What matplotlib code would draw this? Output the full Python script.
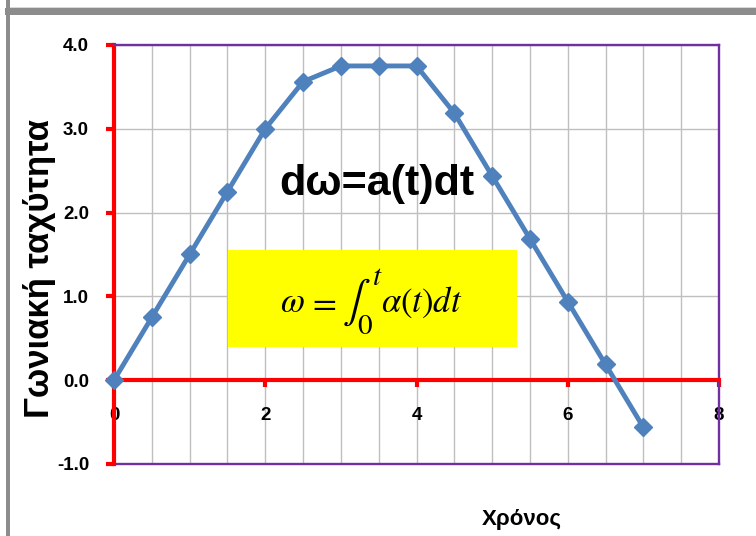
import matplotlib
matplotlib.use("Agg")
import matplotlib.pyplot as plt
from matplotlib.patches import Rectangle
from matplotlib.ticker import MultipleLocator, FormatStrFormatter

# Time samples and angular velocity values
time = [0, 0.5, 1, 1.5, 2, 2.5, 3, 3.5, 4, 4.5, 5, 5.5, 6, 6.5, 7]
omega = [0, 0.75, 1.5, 2.25, 3.0, 3.5625, 3.75, 3.75, 3.75, 3.1875,
         2.4375, 1.6875, 0.9375, 0.1875, -0.5625]

x_ticks = [0, 2, 4, 6, 8]
y_ticks = [-1.0, 0.0, 1.0, 2.0, 3.0, 4.0]

y_label = "Γωνιακή ταχύτητα"
x_label = "Χρόνος"
title_eq = "dω=a(t)dt"

RED = "#FF0000"
PURPLE = "#7030A0"
BLUE = "#4F81BD"
GRID = "#BFBFBF"
FRAME = "#8C8C8C"

plt.rcParams["font.family"] = ["Liberation Sans", "DejaVu Sans"]
plt.rcParams["mathtext.fontset"] = "stix"

W, H = 756, 536
fig = plt.figure(figsize=(W / 100, H / 100), dpi=100)


def px(x, y):
    """Pixel position (from top-left) to figure fraction."""
    return x / W, 1 - y / H


# outer frame: grey band across the top and grey bar down the left
fig.add_artist(Rectangle((5 / W, 1 - 15 / H), 1, 7 / H, transform=fig.transFigure,
                         facecolor=FRAME, edgecolor="none"))
fig.add_artist(Rectangle((6 / W, 0), 4 / W, 1, transform=fig.transFigure,
                         facecolor=FRAME, edgecolor="none"))
fig.add_artist(Rectangle((10 / W, 1 - 8 / H), 1, 1 / H, transform=fig.transFigure,
                         facecolor="#D9D9D9", edgecolor="none"))

ax = fig.add_axes([114 / W, 1 - 464 / H, (719 - 114) / W, (464 - 45) / H])
ax.set_xlim(0, 8)
ax.set_ylim(-1, 4)

ax.xaxis.set_minor_locator(MultipleLocator(0.5))
ax.yaxis.set_major_formatter(FormatStrFormatter("%.1f"))
ax.set_xticks(x_ticks)
ax.set_yticks(y_ticks)

ax.grid(True, which="both", axis="x", color=GRID, lw=1.0, zorder=0)
ax.grid(True, which="major", axis="y", color=GRID, lw=1.0, zorder=0)
ax.set_axisbelow(True)

# spines: red y-axis and red x-axis crossing at zero, purple frame elsewhere
ax.spines["left"].set_color(RED)
ax.spines["left"].set_linewidth(3)
ax.spines["bottom"].set_position(("data", 0))
ax.spines["bottom"].set_color(RED)
ax.spines["bottom"].set_linewidth(3)
for s in ("top", "right"):
    ax.spines[s].set_color(PURPLE)
    ax.spines[s].set_linewidth(1.7)
ax.axhline(-1, color=PURPLE, lw=1.7, zorder=1, clip_on=False)

ax.tick_params(axis="y", which="major", direction="out", length=6, width=3,
               color=RED, pad=12, labelsize=13.5)
ax.tick_params(axis="x", which="major", direction="out", length=5, width=3,
               color=RED, pad=14, labelsize=13.5)
ax.tick_params(axis="x", which="minor", length=0)
for lab in ax.get_xticklabels() + ax.get_yticklabels():
    lab.set_fontweight("bold")

ax.plot(time, omega, color=BLUE, lw=3.5, marker="D", ms=9.5,
        markerfacecolor=BLUE, markeredgecolor=BLUE, zorder=5, clip_on=False)

fig.text(*px(40, 269), y_label, ha="center", va="center", rotation=90,
         fontsize=25, fontweight="bold")
fig.text(*px(522, 520), x_label, ha="center", va="center",
         fontsize=16, fontweight="bold")

fig.text(*px(377, 184), title_eq, ha="center", va="center",
         fontsize=31, fontweight="bold")

# yellow box holding the integral form
ax.add_patch(Rectangle(((228 - 114) / 605, (464 - 347) / 419), (517 - 228) / 605,
                       (347 - 250) / 419, transform=ax.transAxes,
                       facecolor="#FFFF00", edgecolor="none", zorder=3))
fig.text(*px(280, 312), r"$\omega$", ha="left", va="baseline",
         fontsize=25, zorder=6)
fig.text(*px(307, 312), r"$=$", ha="left", va="baseline",
         fontsize=25, zorder=6)
fig.text(*px(362, 302), r"$\int_0^t$", ha="center", va="center",
         fontsize=30, zorder=6)
fig.text(*px(381, 312), r"$\alpha(t)dt$", ha="left", va="baseline",
         fontsize=25, zorder=6)

fig.savefig("out.png", dpi=100)
